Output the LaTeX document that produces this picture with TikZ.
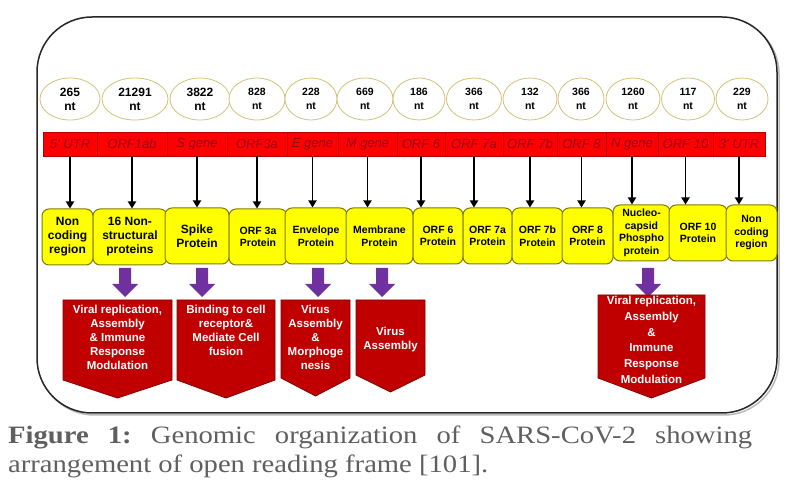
\documentclass[tikz,border=0pt]{standalone}
\usepackage{fontspec}
\setmainfont{Liberation Sans}
\newfontfamily\capfont[FakeStretch=1.145]{Liberation Serif}
\usetikzlibrary{shapes.geometric,arrows.meta}
\definecolor{yfill}{RGB}{255,255,0}
\definecolor{yedge}{RGB}{125,125,0}
\definecolor{elledge}{RGB}{210,195,120}
\definecolor{barred}{RGB}{255,0,0}
\definecolor{bardiv}{RGB}{185,0,0}
\definecolor{bartext}{RGB}{150,0,25}
\definecolor{purp}{RGB}{112,48,160}
\definecolor{pentfill}{RGB}{192,0,0}
\definecolor{pentedge}{RGB}{130,0,0}
\definecolor{capgray}{RGB}{95,95,95}
\newcommand\purpblock[1]{\fill[purp] (#1-6,268) -- (#1+6,268) -- (#1+6,284) -- (#1+13,284) -- (#1,297) -- (#1-13,284) -- (#1-6,284) -- cycle;}
\newcommand\redpent[5]{\draw[pentshape] (#1,#3) -- (#2,#3) -- (#2,#4) -- ({(#1+#2)/2},#5) -- (#1,#4) -- cycle;}
\begin{document}
\begin{tikzpicture}[x=1pt,y=-1pt,
  ellnode/.style={ellipse, draw=elledge, line width=0.8pt, fill=white, minimum height=42pt, inner sep=0pt, align=center},
  ellbig/.style={font=\bfseries\fontsize{12}{14}\selectfont},
  ellsmall/.style={font=\bfseries\fontsize{10.5}{14}\selectfont},
  segnode/.style={rectangle, fill=barred, draw=bardiv, line width=0.6pt, minimum height=24pt, inner sep=0pt, font=\itshape\fontsize{13}{14}\selectfont, text=bartext},
  ybox/.style={rectangle, rounded corners=7pt, fill=yfill, draw=yedge, line width=1pt, inner sep=0pt, align=center, minimum height=56pt},
  ybig/.style={font=\bfseries\fontsize{12}{14}\selectfont},
  ysmall/.style={font=\bfseries\fontsize{10.5}{12.5}\selectfont},
  blackarrow/.style={line width=1.8pt, -{Triangle[length=7pt,width=8pt]}},
  pentshape/.style={fill=pentfill, draw=pentedge, line width=0.8pt},
  penttext/.style={align=center, text=white, inner sep=0pt, font=\bfseries\fontsize{11.5}{14}\selectfont},
  captext/.style={anchor=base west, inner sep=0pt, text=capgray, font=\capfont\fontsize{25}{28}\selectfont}
]
\useasboundingbox (0,0) rectangle (793,494);
% outer frame
\draw[gray!55, line width=1.5pt, rounded corners=55pt] (39,19) rectangle (779,415);
\draw[black!85, line width=1.5pt, fill=white, rounded corners=55pt] (37,17) rectangle (777,413);

% ellipses
\node[ellnode, ellbig, minimum width=60pt] (e1) at (70,99) {265\\nt};
\node[ellnode, ellbig, minimum width=66pt] (e2) at (135,99) {21291\\nt};
\node[ellnode, ellbig, minimum width=60pt] (e3) at (200,99) {3822\\nt};
\node[ellnode, ellsmall, minimum width=56pt] (e4) at (257,99) {828\\nt};
\node[ellnode, ellsmall, minimum width=52pt] (e5) at (311,99) {228\\nt};
\node[ellnode, ellsmall, minimum width=56pt] (e6) at (365,99) {669\\nt};
\node[ellnode, ellsmall, minimum width=52pt] (e7) at (419,99) {186\\nt};
\node[ellnode, ellsmall, minimum width=55pt] (e8) at (474,99) {366\\nt};
\node[ellnode, ellsmall, minimum width=54pt] (e9) at (530,99) {132\\nt};
\node[ellnode, ellsmall, minimum width=46pt] (e10) at (581,99) {366\\nt};
\node[ellnode, ellsmall, minimum width=54pt] (e11) at (633,99) {1260\\nt};
\node[ellnode, ellsmall, minimum width=53pt] (e12) at (688,99) {117\\nt};
\node[ellnode, ellsmall, minimum width=52pt] (e13) at (742,99) {229\\nt};

% red genome bar
\node[segnode, minimum width=54pt] (s1) at (70,144) {5' UTR};
\node[segnode, minimum width=70pt] (s2) at (132,144) {ORF1ab};
\node[segnode, minimum width=60pt] (s3) at (197,144) {S gene};
\node[segnode, minimum width=60pt] (s4) at (257,144) {ORF3a};
\node[segnode, minimum width=51pt] (s5) at (312.5,144) {E gene};
\node[segnode, minimum width=59pt] (s6) at (367.5,144) {M gene};
\node[segnode, minimum width=48pt] (s7) at (421,144) {ORF 6};
\node[segnode, minimum width=58pt] (s8) at (474,144) {ORF 7a};
\node[segnode, minimum width=54pt] (s9) at (530,144) {ORF 7b};
\node[segnode, minimum width=49pt] (s10) at (581.5,144) {ORF 8};
\node[segnode, minimum width=52pt] (s11) at (632,144) {N gene};
\node[segnode, minimum width=55pt] (s12) at (685.5,144) {ORF 10};
\node[segnode, minimum width=52pt] (s13) at (739,144) {3' UTR};

% yellow protein boxes
\node[ybox, ybig, minimum width=51pt] (b1) at (67.5,237) {Non\\coding\\region};
\node[ybox, ybig, minimum width=74pt] (b2) at (130,237) {16 Non-\\structural\\proteins};
\node[ybox, ybig, minimum width=64pt] (b3) at (197,236) {Spike\\Protein};
\node[ybox, ysmall, minimum width=58pt] (b4) at (258,237) {ORF 3a\\Protein};
\node[ybox, ysmall, minimum width=62pt] (b5) at (316,236) {Envelope\\Protein};
\node[ybox, ysmall, minimum width=67pt] (b6) at (379.5,236) {Membrane\\Protein};
\node[ybox, ysmall, minimum width=50pt] (b7) at (438,236) {ORF 6\\Protein};
\node[ybox, ysmall, minimum width=49pt] (b8) at (487.5,236) {ORF 7a\\Protein};
\node[ybox, ysmall, minimum width=51pt] (b9) at (537.5,236) {ORF 7b\\Protein};
\node[ybox, ysmall, minimum width=51pt] (b10) at (587.5,236) {ORF 8\\Protein};
\node[ybox, ysmall, minimum width=57pt] (b11) at (641.5,233) {Nucleo-\\capsid\\Phospho\\protein};
\node[ybox, ysmall, minimum width=58pt] (b12) at (698,233) {ORF 10\\Protein};
\node[ybox, ysmall, minimum width=51pt] (b13) at (751.5,233) {Non\\coding\\region};

% black arrows
\foreach \i in {1,...,13}{
  \draw[blackarrow] (s\i.south) -- (s\i.south |- b\i.north);
}

% purple block arrows
\purpblock{125}
\purpblock{202}
\purpblock{318}
\purpblock{382}
\purpblock{648}

% red function pentagons
\redpent{63}{172}{300}{380}{398}
\redpent{177}{275}{300}{380}{398}
\redpent{281}{350}{300}{378}{396}
\redpent{356}{425}{300}{375}{392}
\redpent{598}{705}{295}{378}{398}
\node[penttext, anchor=north] (f1) at (117.5,305) {Viral replication,\\Assembly\\\& Immune\\Response\\Modulation};
\node[penttext, anchor=north] (f2) at (226,305) {Binding to cell\\receptor\&\\Mediate Cell\\fusion};
\node[penttext, anchor=north] (f3) at (315.5,305) {Virus\\Assembly\\\&\\Morphoge\\nesis};
\node[penttext] (f4) at (390.5,340) {Virus\\Assembly};
\node[penttext, anchor=north, font=\bfseries\fontsize{11.5}{15.8}\selectfont] (f5) at (651.5,296) {Viral replication,\\Assembly\\\&\\Immune\\Response\\Modulation};

% caption
\node[captext] (cap1) at (8,443)
  {\makebox[744pt][l]{\textbf{Figure}\hfill\textbf{1:}\hfill Genomic\hfill organization\hfill of\hfill SARS-CoV-2\hfill showing}};
\node[captext] (cap2) at (8,472)
  {arrangement of open reading frame [101].};
\end{tikzpicture}
\end{document}
